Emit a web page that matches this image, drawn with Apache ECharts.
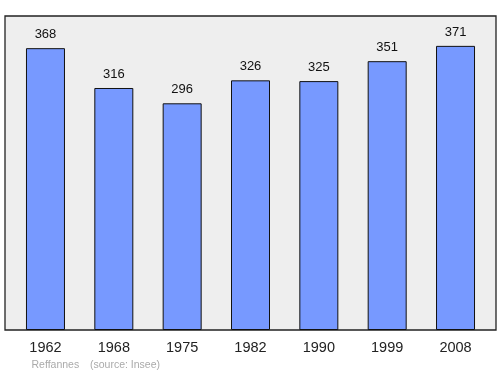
<!DOCTYPE html>
<html><head><meta charset="utf-8">
<script src="https://cdn.jsdelivr.net/npm/echarts@6/dist/echarts.min.js"></script>
<style>html,body{margin:0;padding:0;background:#fff}#c{width:500px;height:374px}</style>
</head><body><div id="c"></div>
<script>
const years = ['1962','1968','1975','1982','1990','1999','2008'];
const population = [368, 316, 296, 326, 325, 351, 371];
const commune = 'Reffannes';
const source = '(source: Insee)';

const chart = echarts.init(document.getElementById('c'), null, {renderer: 'canvas'});
chart.setOption({
  animation: false,
  title: [
    {text: commune, left: 31.5, top: 359.5, padding: 0, textStyle: {fontSize: 10.5, fontWeight: 'normal', color: '#aaaaaa', fontFamily: 'Liberation Sans'}},
    {text: source, left: 90, top: 359.5, padding: 0, textStyle: {fontSize: 10.5, fontWeight: 'normal', color: '#aaaaaa', fontFamily: 'Liberation Sans'}}
  ],
  grid: [
    {left: 5, right: 4, top: 16, bottom: 44, show: true, backgroundColor: '#eeeeee', borderColor: '#222', borderWidth: 1.3, z: 0},
    {left: 11.3, right: 10.3, top: 16, bottom: 44}
  ],
  xAxis: [
    {gridIndex: 0, type: 'value', show: false, min: 0, max: 1},
    {gridIndex: 1, type: 'category', data: years, axisLine: {show: false}, axisTick: {show: false},
     axisLabel: {fontSize: 14.5, color: '#222', margin: 10, fontFamily: 'Liberation Sans'}}
  ],
  yAxis: [
    {gridIndex: 0, type: 'value', show: false, min: 0, max: 1},
    {gridIndex: 1, type: 'value', min: 0, max: 410, show: false}
  ],
  series: [{
    type: 'bar', xAxisIndex: 1, yAxisIndex: 1, data: population, barWidth: 39,
    itemStyle: {color: '#7799ff', borderColor: '#111', borderWidth: 1},
    label: {show: true, position: 'top', distance: 7, fontSize: 13, color: '#111', fontFamily: 'Liberation Sans'}
  }]
});
</script></body></html>
